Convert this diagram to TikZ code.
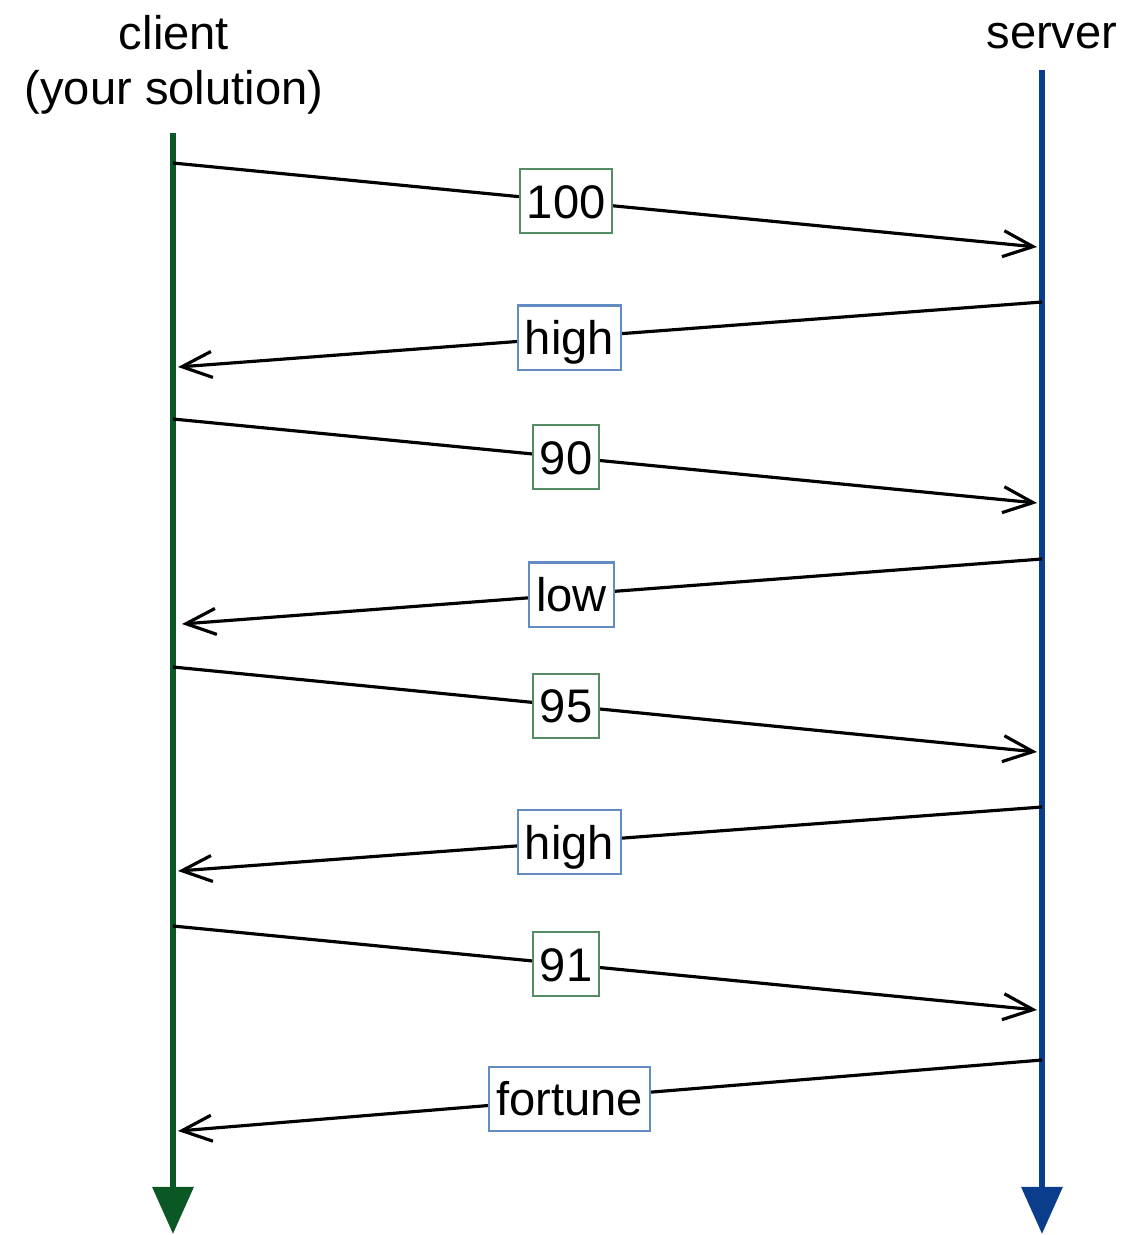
\documentclass[tikz,border=0pt]{standalone}
\usepackage{fontspec}
\setmainfont{Liberation Sans}
\usepackage{xcolor}
\usetikzlibrary{arrows.meta,positioning}

\definecolor{clientgreen}{RGB}{12,88,36}
\definecolor{serverblue}{RGB}{10,62,140}
\definecolor{boxgreen}{RGB}{86,140,100}
\definecolor{boxblue}{RGB}{100,140,196}

\tikzset{
  lbl/.style={font=\fontsize{13.4}{15.6}\selectfont},
  lifeline/.style={line width=1.8pt,-{Triangle[width=0.4cm,length=0.47cm]}},
  msg/.style={line width=0.9pt,-{Straight Barb[length=0.3cm,width=0.26cm]}},
  msgbox/.style={lbl,draw,fill=white,line width=0.6pt,minimum height=0.64cm,
                 text height=0.4cm,text depth=0.06cm,inner xsep=0.07cm,inner ysep=0.05cm},
  tosrv/.style={msgbox,draw=boxgreen,pos=0.455},
  tocli/.style={msgbox,draw=boxblue,pos=0.547}
}

\begin{document}
\begin{tikzpicture}[x=0.01cm,y=-0.01cm]
 \useasboundingbox (0,0) rectangle (1124,1235);
 % participants
 \node[lbl,align=center,anchor=north,inner sep=0] (client) at (174,15) {client\\(your solution)};
 \node[lbl,anchor=base,inner sep=0] (server) at (1052,48) {server};
 \coordinate (cTop) at (173,133);  \coordinate (cEnd) at (173,1234);
 \coordinate (sTop) at (1042,70);  \coordinate (sEnd) at (1042,1234);
 \draw[lifeline,clientgreen] (cTop) -- (cEnd);
 \draw[lifeline,serverblue] (sTop) -- (sEnd);
 % guesses
 \coordinate (c1) at (173,163);  \coordinate (s1) at (1037,247);
 \coordinate (s2) at (1042,302); \coordinate (c2) at (178,367);
 \coordinate (c3) at (173,419);  \coordinate (s3) at (1037,503);
 \coordinate (s4) at (1042,559); \coordinate (c4) at (182,624);
 \coordinate (c5) at (173,667);  \coordinate (s5) at (1037,752);
 \coordinate (s6) at (1042,807); \coordinate (c6) at (178,871);
 \coordinate (c7) at (173,926);  \coordinate (s7) at (1037,1010);
 \coordinate (s8) at (1042,1060);\coordinate (c8) at (178,1131);
 \draw[msg] (c1) -- node[tosrv] (m1) {100} (s1);
 \draw[msg] (s2) -- node[tocli] (m2) {high} (c2);
 \draw[msg] (c3) -- node[tosrv] (m3) {90} (s3);
 \draw[msg] (s4) -- node[tocli] (m4) {low} (c4);
 \draw[msg] (c5) -- node[tosrv] (m5) {95} (s5);
 \draw[msg] (s6) -- node[tocli] (m6) {high} (c6);
 \draw[msg] (c7) -- node[tosrv] (m7) {91} (s7);
 \draw[msg] (s8) -- node[tocli] (m8) {fortune} (c8);
\end{tikzpicture}
\end{document}
